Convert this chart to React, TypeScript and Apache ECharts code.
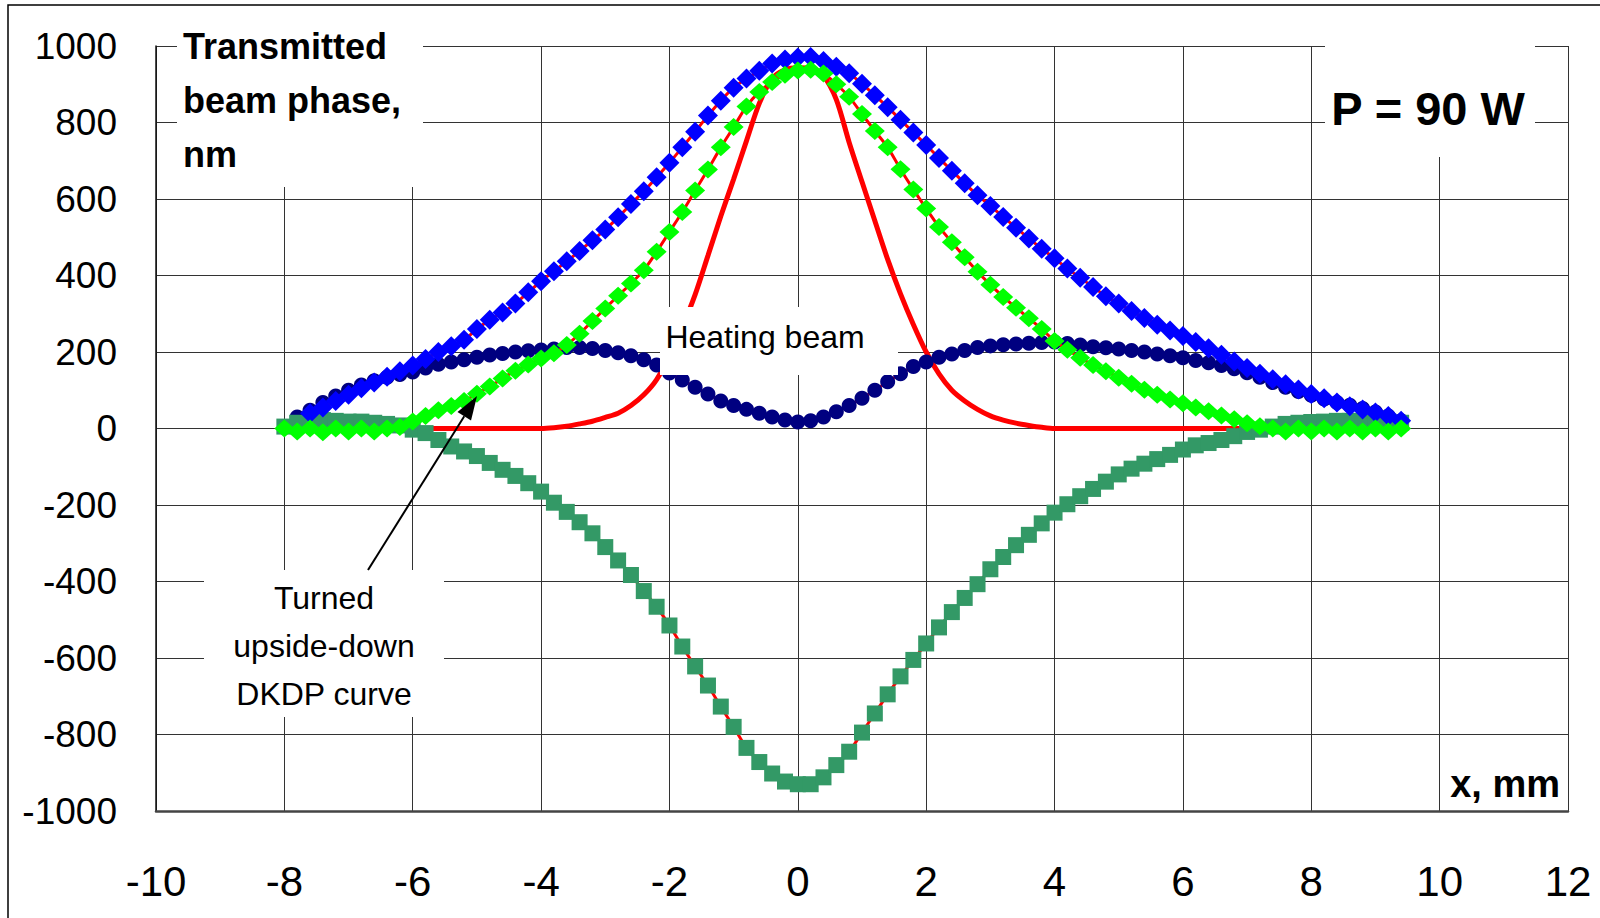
import React, { useEffect, useRef } from "react";
import * as echarts from "echarts";

// x sample grid (mm): -8.0 ... 9.4, step 0.2
const X_START = -8;
const X_STEP = 0.2;
const N_POINTS = 88;
const xs: number[] = Array.from({ length: N_POINTS }, (_, i) => Math.round((X_START + i * X_STEP) * 10) / 10);

// Blue diamonds: total measured phase
const bluePhase: (number | null)[] = [
  null, null, 40, 55, 72, 88, 105, 120, 135, 150,
  165, 182, 200, 215, 232, 260, 284, 303, 327, 356,
  385, 411, 437, 464, 492, 520, 552, 587, 620, 657,
  695, 735, 776, 818, 857, 891, 915, 935, 954, 965,
  970, 971, 961, 946, 929, 901, 871, 840, 807, 774,
  741, 707, 674, 641, 610, 582, 553, 525, 497, 470,
  445, 418, 394, 370, 346, 327, 307, 289, 271, 256,
  242, 226, 210, 193, 175, 158, 143, 129, 116, 102,
  90, 79, 68, 58, 50, 42, 33, 20,
];

// Green diamonds
const greenPhase: (number | null)[] = [
  0, -8, 0, -10, 0, -8, 0, -8, 0, 4,
  18, 33, 48, 59, 72, 91, 110, 131, 151, 167,
  183, 197, 218, 248, 281, 314, 347, 379, 414, 462,
  514, 566, 622, 677, 735, 788, 842, 880, 906, 925,
  936, 938, 928, 900, 867, 822, 778, 735, 678, 625,
  575, 527, 487, 448, 410, 376, 344, 316, 288, 260,
  229, 206, 185, 166, 150, 133, 117, 101, 88, 76,
  66, 55, 45, 34, 24, 14, 6, 0, -8, 0,
  -8, 0, -8, 0, -8, 0, -8, 0,
];

// Navy circles
const navyPhase: (number | null)[] = [
  null, 30, 48, 68, 85, 100, 114, 125, 134, 141,
  148, 158, 168, 174, 180, 186, 192, 196, 200, 203,
  205, 208, 212, 212, 209, 204, 198, 190, 180, 166,
  145, 127, 108, 90, 72, 60, 50, 40, 30, 22,
  17, 20, 30, 44, 60, 79, 100, 122, 143, 162,
  174, 186, 195, 204, 212, 216, 219, 221, 223, 225,
  226, 222, 218, 214, 211, 208, 204, 200, 195, 190,
  185, 178, 172, 165, 156, 146, 134, 120, 108, 97,
  87, 77, 68, 61, 52, 43, 33, 20,
];

// Sea-green squares: turned upside-down DKDP curve
const dkdpPhase: (number | null)[] = [
  5, 15, 20, 22, 20, 18, 18, 15, 12, 8,
  -3, -12, -30, -47, -60, -72, -90, -108, -124, -143,
  -165, -194, -218, -245, -274, -310, -345, -383, -425, -466,
  -515, -570, -622, -672, -727, -780, -835, -872, -902, -923,
  -930, -930, -912, -880, -845, -795, -745, -695, -648, -605,
  -562, -520, -480, -443, -407, -368, -336, -305, -278, -248,
  -220, -198, -177, -158, -139, -120, -105, -92, -80, -69,
  -55, -44, -38, -30, -20, -9, -3, 5, 12, 15,
  17, 18, 20, 20, 20, 20, 18, 15,
];

// Heating beam profile (red line)
const heatingBeam: (number | null)[] = [
  null, null, null, null, null, null, null, null, null, null,
  null, 0, 0, 0, 0, 0, 0, 0, 0, 0,
  0, 2, 6, 12, 19, 29, 40, 60, 88, 128,
  190, 265, 350, 452, 555, 652, 752, 850, 915, 938,
  943, 942, 922, 860, 748, 645, 543, 442, 352, 272,
  200, 143, 100, 72, 50, 33, 22, 14, 8, 3,
  0, 0, 0, 0, 0, 0, 0, 0, 0, 0,
  0, 0, 0, 0, 0, 0, null, null, null, null,
  null, null, null, null, null, null, null, null,
];

const X_MIN = -10;
const X_MAX = 12;
const X_INTERVAL = 2;
const Y_MIN = -1000;
const Y_MAX = 1000;
const Y_INTERVAL = 200;

const FONT = "'Liberation Sans', Arial, sans-serif";

const pairs = (vals: (number | null)[]) =>
  xs.map((x, i) => [x, vals[i]]).filter((p) => p[1] !== null);

export default function App() {
  const ref = useRef<HTMLDivElement>(null);

  useEffect(() => {
    if (!ref.current) return;
    const chart = echarts.init(ref.current, undefined, { renderer: "svg" });

    const markerSeries = (
      name: string,
      vals: (number | null)[],
      symbol: string,
      size: number | number[],
      color: string,
      z: number
    ) => ({
      name,
      type: "line",
      data: pairs(vals),
      symbol,
      symbolSize: size,
      smooth: 0.3,
      itemStyle: { color, borderWidth: 0 },
      lineStyle: { color: "#FF0000", width: 3 },
      emphasis: { disabled: true },
      silent: true,
      z,
    });

    // arrow geometry (annotation)
    const tip = [477, 396];
    const tail = [368, 570];
    const dx = tip[0] - tail[0];
    const dy = tip[1] - tail[1];
    const len = Math.sqrt(dx * dx + dy * dy);
    const ux = dx / len;
    const uy = dy / len;
    const headLen = 24;
    const headHalf = 8;
    const bx = tip[0] - headLen * ux;
    const by = tip[1] - headLen * uy;
    const nx = -uy;
    const ny = ux;

    chart.setOption({
      animation: false,
      backgroundColor: "#ffffff",
      grid: { left: 156, right: 32, top: 46, bottom: 107, containLabel: false },
      xAxis: {
        type: "value",
        min: X_MIN,
        max: X_MAX,
        interval: X_INTERVAL,
        axisLine: { show: true, onZero: false, lineStyle: { color: "#444", width: 2.5 } },
        axisTick: { show: false },
        splitLine: { show: true, lineStyle: { color: "#333", width: 1 } },
        axisLabel: {
          fontSize: 42,
          fontFamily: FONT,
          color: "#000",
          margin: 49,
          formatter: (v: number) => String(v),
        },
      },
      yAxis: {
        type: "value",
        min: Y_MIN,
        max: Y_MAX,
        interval: Y_INTERVAL,
        axisLine: { show: true, onZero: false, lineStyle: { color: "#111", width: 1.5 } },
        axisTick: { show: false },
        splitLine: { show: true, lineStyle: { color: "#333", width: 1 } },
        axisLabel: {
          fontSize: 37,
          fontFamily: FONT,
          color: "#000",
          margin: 39,
          formatter: (v: number) => String(v),
        },
      },
      series: [
        {
          name: "Heating beam",
          type: "line",
          data: pairs(heatingBeam),
          symbol: "none",
          smooth: 0.3,
          lineStyle: { color: "#FF0000", width: 5 },
          emphasis: { disabled: true },
          silent: true,
          z: 2,
        },
        markerSeries("Navy", navyPhase, "circle", 15, "#000080", 3),
        markerSeries("DKDP", dkdpPhase, "rect", 16, "#339966", 4),
        markerSeries("Blue", bluePhase, "diamond", [20, 20], "#0000FF", 5),
        markerSeries("Green", greenPhase, "diamond", [20, 18], "#00FF00", 6),
      ],
      graphic: [
        // outer chart-area frame
        {
          type: "polyline",
          shape: { points: [[8, 918], [8, 5], [1600, 5]] },
          style: { stroke: "#000", lineWidth: 1.5, fill: null },
          z: 100,
        },
        // white label boxes
        { type: "rect", shape: { x: 177, y: 28, width: 246, height: 159 }, style: { fill: "#fff" }, z: 100 },
        { type: "rect", shape: { x: 1325, y: 38, width: 210, height: 119 }, style: { fill: "#fff" }, z: 100 },
        { type: "rect", shape: { x: 660, y: 307, width: 238, height: 68 }, style: { fill: "#fff" }, z: 100 },
        { type: "rect", shape: { x: 204, y: 570, width: 240, height: 147 }, style: { fill: "#fff" }, z: 100 },
        // texts
        {
          type: "text",
          x: 183,
          y: 100,
          style: {
            text: "Transmitted\nbeam phase,\nnm",
            fontSize: 36,
            fontWeight: "bold",
            fontFamily: FONT,
            fill: "#000",
            align: "left",
            verticalAlign: "middle",
            lineHeight: 54,
          },
          z: 101,
        },
        {
          type: "text",
          x: 1428,
          y: 108,
          style: {
            text: "P = 90 W",
            fontSize: 47,
            fontWeight: "bold",
            fontFamily: FONT,
            fill: "#000",
            align: "center",
            verticalAlign: "middle",
          },
          z: 101,
        },
        {
          type: "text",
          x: 765,
          y: 337,
          style: {
            text: "Heating beam",
            fontSize: 32,
            fontFamily: FONT,
            fill: "#000",
            align: "center",
            verticalAlign: "middle",
          },
          z: 101,
        },
        {
          type: "text",
          x: 324,
          y: 646,
          style: {
            text: "Turned\nupside-down\nDKDP curve",
            fontSize: 32,
            fontFamily: FONT,
            fill: "#000",
            align: "center",
            verticalAlign: "middle",
            lineHeight: 48,
          },
          z: 101,
        },
        {
          type: "text",
          x: 1560,
          y: 784,
          style: {
            text: "x, mm",
            fontSize: 38,
            fontWeight: "bold",
            fontFamily: FONT,
            fill: "#000",
            align: "right",
            verticalAlign: "middle",
          },
          z: 101,
        },
        // arrow
        {
          type: "line",
          shape: { x1: tail[0], y1: tail[1], x2: bx, y2: by },
          style: { stroke: "#000", lineWidth: 2 },
          z: 102,
        },
        {
          type: "polygon",
          shape: {
            points: [
              [tip[0], tip[1]],
              [bx + headHalf * nx, by + headHalf * ny],
              [bx - headHalf * nx, by - headHalf * ny],
            ],
          },
          style: { fill: "#000" },
          z: 102,
        },
      ],
    });

    return () => chart.dispose();
  }, []);

  return (
    <div
      ref={ref}
      style={{ position: "absolute", left: 0, top: 0, width: 1600, height: 918, background: "#fff" }}
    />
  );
}
